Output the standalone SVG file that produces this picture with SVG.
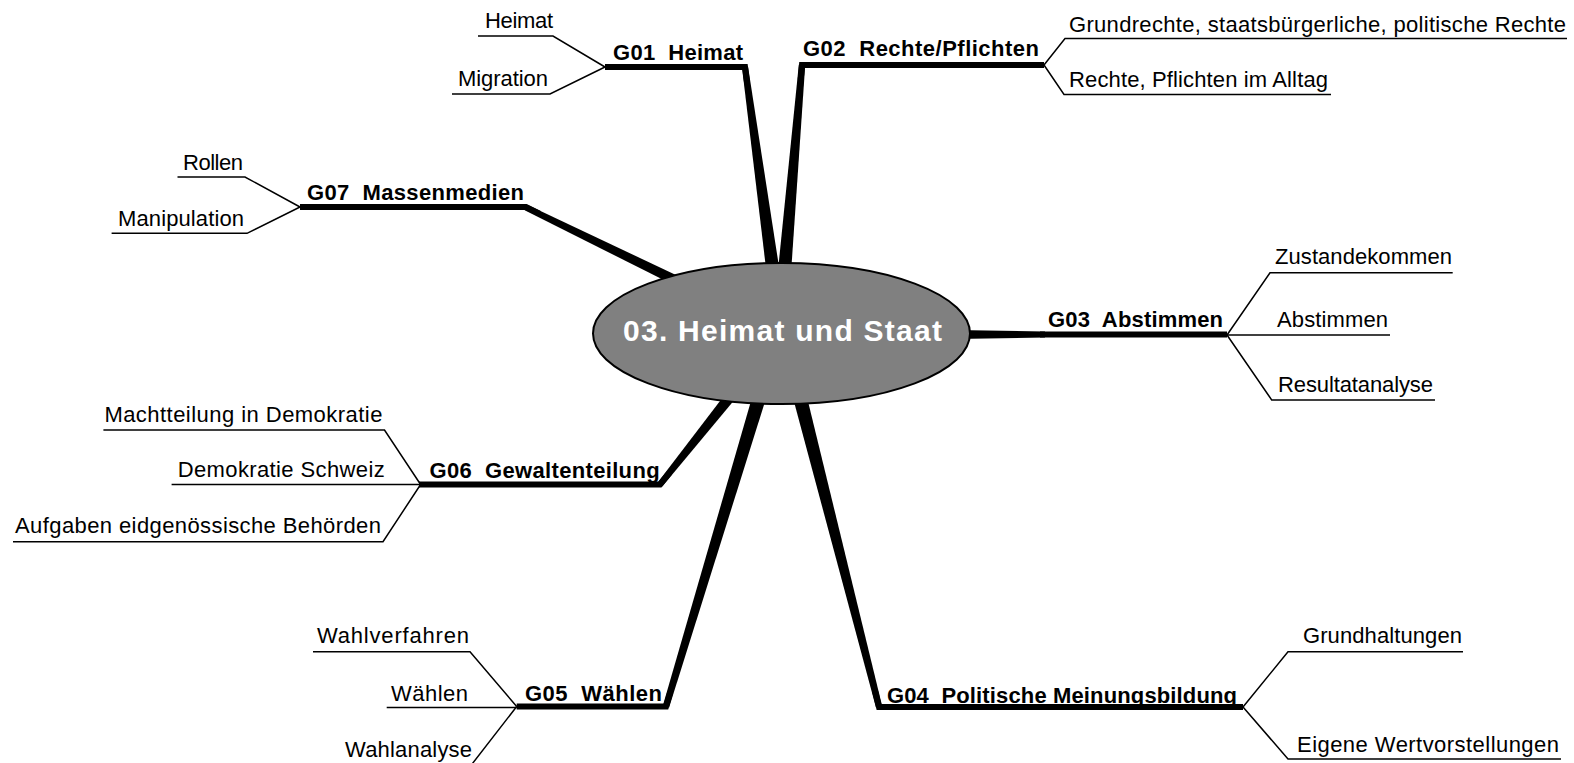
<svg xmlns="http://www.w3.org/2000/svg" width="1574" height="763" viewBox="0 0 1574 763">
<style>
text { font-family: "Liberation Sans", Arial, sans-serif; font-size: 22px; fill: #000; white-space: pre; }
.b { font-weight: bold; }
.title { font-weight: bold; font-size: 30px; fill: #fff; }
.thin { stroke: #000; stroke-width: 1.5; fill: none; }
.thick { stroke: #000; stroke-width: 6; fill: none; stroke-linejoin: miter; }
.spoke { fill: #000; stroke: none; }
</style>
<rect width="1574" height="763" fill="#fff"/>
<g id="connectors">
  <polygon class="spoke" points="780.9,279.1 748.0,66.6 742.0,67.4 767.5,280.9"/>
  <polyline class="thick" points="605,67 745,67 747,82"/>
  <polygon class="spoke" points="790.5,280.6 805.2,65.3 798.8,64.7 777.1,279.4"/>
  <polyline class="thick" points="800.7,80 802,65 1044,65"/>
  <polygon class="spoke" points="692.3,282.7 527.3,204.8 524.7,210.2 687.7,292.1"/>
  <polyline class="thick" points="300,207 526,207 539.5,213.6"/>
  <polygon class="spoke" points="940,329.8 1045,331.5 1045,337.5 940,339.2"/>
  <polyline class="thick" points="1040,334.5 1227,334.5"/>
  <polygon class="spoke" points="734.9,381.4 657.7,482.6 662.3,486.4 743.9,388.6"/>
  <polyline class="thick" points="419,484.5 660,484.5 669.4,472.8"/>
  <polygon class="spoke" points="756.2,383.0 662.9,705.6 669.1,707.4 769.6,387.0"/>
  <polyline class="thick" points="516.7,706.5 666,706.5 670.3,692.1"/>
  <polygon class="spoke" points="790.0,386.7 875.9,707.3 882.1,705.7 803.6,383.3"/>
  <polyline class="thick" points="875.3,692 879,707 1243,707"/>
  <polyline class="thin" points="478,36 553,36 605,67"/>
  <polyline class="thin" points="452,94 550,94 605,67"/>
  <polyline class="thin" points="1044,65 1065,38.5 1567,38.5"/>
  <polyline class="thin" points="1044,65 1064,94.5 1331,94.5"/>
  <polyline class="thin" points="177.5,177 245,177 300,207"/>
  <polyline class="thin" points="111.6,233.3 247,233.3 300,207"/>
  <polyline class="thin" points="1227,335 1270,272.7 1452.7,272.7"/>
  <polyline class="thin" points="1227,335 1390,335"/>
  <polyline class="thin" points="1227,335 1271.7,400 1435,400"/>
  <polyline class="thin" points="103.4,430 384.5,430 420.6,484.5"/>
  <polyline class="thin" points="171.6,484.5 420.6,484.5"/>
  <polyline class="thin" points="13,541.7 383,541.7 420.6,484.5"/>
  <polyline class="thin" points="313,651.7 470,651.7 516.7,706.5"/>
  <polyline class="thin" points="386.7,707.5 516.7,707.5"/>
  <polyline class="thin" points="516.7,706.5 469,768 340,768"/>
  <polyline class="thin" points="1243,707 1288,651.7 1463,651.7"/>
  <polyline class="thin" points="1243,707 1288,759 1561,759"/>
</g>
<g id="center">
  <ellipse cx="781.5" cy="333.5" rx="188.5" ry="70.5" fill="#808080" stroke="#000" stroke-width="2"/>
  <text class="title" x="623" y="341" textLength="319">03. Heimat und Staat</text>
</g>
<g id="G01"><text class="b" x="613" y="60" textLength="130" xml:space="preserve">G01  Heimat</text></g>
<g id="G01-heimat"><text x="485" y="28" textLength="68">Heimat</text></g>
<g id="G01-migration"><text x="458" y="86" textLength="90">Migration</text></g>
<g id="G02"><text class="b" x="803" y="56" textLength="236" xml:space="preserve">G02  Rechte/Pflichten</text></g>
<g id="G02-grundrechte"><text x="1069" y="31.5" textLength="497">Grundrechte, staatsbürgerliche, politische Rechte</text></g>
<g id="G02-alltag"><text x="1069" y="87" textLength="259">Rechte, Pflichten im Alltag</text></g>
<g id="G07"><text class="b" x="307" y="200" textLength="217" xml:space="preserve">G07  Massenmedien</text></g>
<g id="G07-rollen"><text x="183" y="170" textLength="60">Rollen</text></g>
<g id="G07-manipulation"><text x="118" y="226" textLength="126">Manipulation</text></g>
<g id="G03"><text class="b" x="1048" y="327" textLength="175" xml:space="preserve">G03  Abstimmen</text></g>
<g id="G03-zustandekommen"><text x="1275" y="263.5" textLength="177">Zustandekommen</text></g>
<g id="G03-abstimmen"><text x="1277" y="327" textLength="111">Abstimmen</text></g>
<g id="G03-resultatanalyse"><text x="1278" y="392" textLength="155">Resultatanalyse</text></g>
<g id="G06"><text class="b" x="429.6" y="478" textLength="230" xml:space="preserve">G06  Gewaltenteilung</text></g>
<g id="G06-machtteilung"><text x="104.4" y="422" textLength="278">Machtteilung in Demokratie</text></g>
<g id="G06-schweiz"><text x="177.7" y="477" textLength="207">Demokratie Schweiz</text></g>
<g id="G06-aufgaben"><text x="15" y="533" textLength="366">Aufgaben eidgenössische Behörden</text></g>
<g id="G05"><text class="b" x="525" y="701" textLength="137" xml:space="preserve">G05  Wählen</text></g>
<g id="G05-wahlverfahren"><text x="317" y="643" textLength="152">Wahlverfahren</text></g>
<g id="G05-waehlen"><text x="391" y="701" textLength="77">Wählen</text></g>
<g id="G05-wahlanalyse"><text x="345" y="757" textLength="127">Wahlanalyse</text></g>
<g id="G04"><text class="b" x="887" y="703" textLength="350" xml:space="preserve">G04  Politische Meinungsbildung</text></g>
<g id="G04-grundhaltungen"><text x="1303" y="643" textLength="159">Grundhaltungen</text></g>
<g id="G04-wertvorstellungen"><text x="1297" y="752" textLength="262">Eigene Wertvorstellungen</text></g>
</svg>
